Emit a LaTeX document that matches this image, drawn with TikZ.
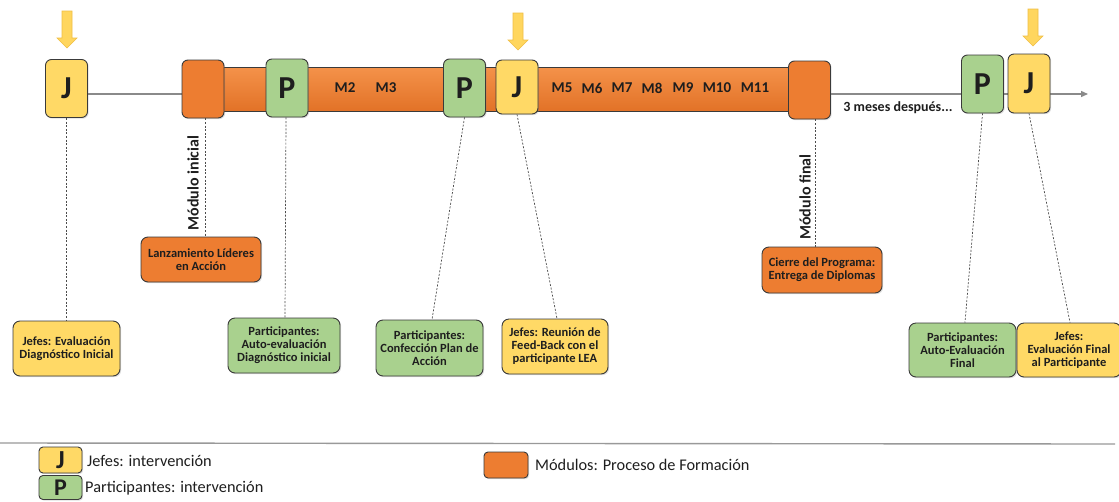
\documentclass[tikz,border=0pt]{standalone}
\usepackage{fontspec}
\setmainfont{Carlito}
\usetikzlibrary{arrows.meta,shadows}
\pgfdeclarelayer{background}
\pgfdeclarelayer{paper}
\pgfsetlayers{paper,background,main}
\definecolor{jyel}{HTML}{FFD966}
\definecolor{pgrn}{HTML}{A9D18E}
\definecolor{morg}{HTML}{ED7D31}
\definecolor{morgtop}{HTML}{F4924A}
\definecolor{morgbot}{HTML}{E27227}
\definecolor{bord}{HTML}{3A3A3A}
\definecolor{tline}{HTML}{8A8A8A}
\definecolor{arrfill}{HTML}{FFD65E}
\definecolor{arredge}{HTML}{F0BE45}
\definecolor{txt}{HTML}{1E1E1E}
\begin{document}
\begin{tikzpicture}[x=1pt,y=-1pt,
  bx/.style={draw=bord, line width=0.9pt, rounded corners=6pt, inner sep=0pt, text=txt,
    drop shadow={shadow xshift=1.2pt, shadow yshift=-1.2pt, opacity=0.25}},
  letter/.style={bx, font=\bfseries\fontsize{32}{32}\selectfont, minimum width=42pt, minimum height=58pt},
  jb/.style={letter, fill=jyel},
  pb/.style={letter, fill=pgrn},
  mb/.style={bx, fill=morg, minimum width=42pt, minimum height=58pt},
  info/.style={bx, align=center, font=\bfseries\fontsize{12.5}{13}\selectfont, rounded corners=7pt},
  mlab/.style={font=\bfseries\fontsize{15}{15}\selectfont, text=txt, inner sep=0pt},
  tlab/.style={font=\bfseries\fontsize{14}{14}\selectfont, text=txt, inner sep=0pt},
  rlab/.style={font=\bfseries\fontsize{16}{16}\selectfont, text=txt, inner sep=0pt, rotate=90},
  leg/.style={font=\fontsize{16.3}{16.3}\selectfont, text=txt, inner sep=0pt, anchor=west},
  legbox/.style={bx, minimum width=43pt, minimum height=26pt, rounded corners=4pt, font=\bfseries\fontsize{26}{26}\selectfont},
  conn/.style={draw=black!70, line width=0.7pt, dash pattern=on 2pt off 1.6pt},
  downarr/.pic={\filldraw[fill=arrfill, draw=arredge, line width=0.6pt]
    (-5,0) -- (5,0) -- (5,27) -- (10,27) -- (0,37) -- (-10,27) -- (-5,27) -- cycle;}
]
\useasboundingbox (0,0) rectangle (1119,501);
\clip (0,0) rectangle (1119,501);
\begin{pgfonlayer}{paper}
\fill[white] (0,0) rectangle (1119,501);
\end{pgfonlayer}

% orange bar
\node[draw=bord, line width=0.8pt, top color=morgtop, bottom color=morgbot, inner sep=0pt,
  minimum width=600pt, minimum height=44pt] (bar) at (500,89) {};

% timeline boxes
\node[jb] (J1) at (66.5,88.5) {J};
\node[mb] (M1) at (203,89) {};
\node[pb] (P1) at (287,88) {P};
\node[pb] (P2) at (464.5,88) {P};
\node[jb, minimum height=54pt] (J2) at (517,87) {J};
\node[mb] (M12) at (809.5,90) {};
\node[pb] (P3) at (982.5,84) {P};
\node[jb, minimum height=59pt] (J3) at (1029,83.5) {J};

% module labels on the bar
\node[mlab] (m2) at (345,88) {M2};
\node[mlab] (m3) at (386,88) {M3};
\node[mlab] (m5) at (562,88) {M5};
\node[mlab] (m6) at (592,88) {M6};
\node[mlab] (m7) at (622,88) {M7};
\node[mlab] (m8) at (652,88) {M8};
\node[mlab] (m9) at (683,88) {M9};
\node[mlab] (m10) at (717,88) {M10};
\node[mlab] (m11) at (755,88) {M11};
\node[tlab] (tres) at (898,108) {3 meses después...};

% down arrows
\pic at (67,11) {downarr};
\pic at (518,13) {downarr};
\pic at (1033,9) {downarr};

% timeline
\coordinate (tlend) at (1088,94);
\begin{pgfonlayer}{background}
\draw[tline, line width=1.3pt, -{Triangle[length=7pt,width=6pt]}] (J1.east |- tlend) -- (tlend);
\end{pgfonlayer}

% info boxes
\node[info, fill=jyel, minimum width=107pt, minimum height=55pt] (jefes1) at (66.5,348.5)
  {Jefes: Evaluación\\Diagnóstico Inicial};
\node[info, fill=morg, minimum width=120pt, minimum height=45pt] (lanz) at (201,259.5)
  {Lanzamiento Líderes\\en Acción};
\node[info, fill=pgrn, minimum width=112pt, minimum height=55pt] (part1) at (284,345.5)
  {Participantes:\\Auto-evaluación\\Diagnóstico inicial};
\node[info, fill=pgrn, minimum width=107pt, minimum height=56pt] (part2) at (429.5,348)
  {Participantes:\\Confección Plan de\\Acción};
\node[info, fill=jyel, minimum width=106pt, minimum height=55pt] (jefes2) at (555,346.5)
  {Jefes: Reunión de\\Feed-Back con el\\participante LEA};
\node[info, fill=morg, minimum width=120pt, minimum height=46pt] (cierre) at (822,270)
  {Cierre del Programa:\\Entrega de Diplomas};
\node[info, fill=pgrn, minimum width=107pt, minimum height=54pt] (part3) at (962.5,350)
  {Participantes:\\Auto-Evaluación\\Final};
\node[info, fill=jyel, minimum width=104pt, minimum height=54pt] (jefes3) at (1069,350)
  {Jefes:\\Evaluación Final\\al Participante};

% dotted connectors
\draw[conn] (J1.south) -- (J1.south |- jefes1.north);
\draw[conn] ([xshift=2pt]M1.south) -- ([xshift=2pt]M1.south |- lanz.north);
\draw[conn] ([xshift=-1pt]P1.south) -- ([xshift=1pt]part1.north);
\draw[conn] (P2.south) -- ([xshift=2.5pt]part2.north);
\draw[conn] (J2.south) -- ([xshift=2pt]jefes2.north);
\draw[conn] ([xshift=5.5pt]M12.south) -- ([xshift=5.5pt]M12.south |- cierre.north);
\draw[conn] (P3.south) -- ([xshift=2.5pt]part3.north);
\draw[conn] (J3.south) -- ([xshift=1pt]jefes3.north);

% rotated labels
\node[rlab] (modini) at (193,183) {Módulo inicial};
\node[rlab] (modfin) at (805,197) {Módulo final};

% legend
\coordinate (lgA) at (0,443);
\coordinate (lgB) at (1115,444);
\draw[black!40, line width=1.4pt] (lgA) -- (lgB);
\node[legbox, fill=jyel] (LJ) at (60.5,460) {J};
\node[legbox, fill=pgrn, minimum height=24pt, font=\bfseries\fontsize{24}{24}\selectfont] (LP) at (60.5,487.5) {P};
\node[legbox, fill=morg, minimum width=44pt] (LM) at (506,465) {};
\node[leg] (tLJ) at (87,461) {Jefes: intervención};
\node[leg] (tLP) at (85,488) {Participantes: intervención};
\node[leg] (tLM) at (535,465) {Módulos: Proceso de Formación};
\end{tikzpicture}
\end{document}
